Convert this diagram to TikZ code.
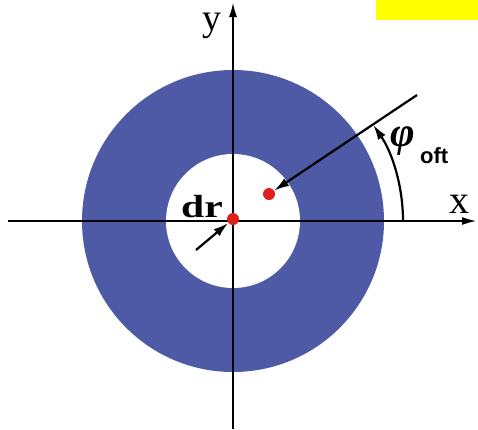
\documentclass[tikz,border=0pt]{standalone}
\usepackage{fontspec}
\setmainfont{Liberation Serif}
\newfontfamily\sansb{Liberation Sans}
\usetikzlibrary{arrows.meta}
\definecolor{ringblue}{RGB}{78,90,166}
\definecolor{dotred}{RGB}{222,32,32}
\definecolor{boxyellow}{RGB}{255,255,0}
\begin{document}
\begin{tikzpicture}[x=1pt,y=-1pt,
  axis/.style={line width=2.2pt, -{Latex[length=15pt,width=8pt]}},
  pointer/.style={line width=2.2pt, -{Latex[length=15pt,width=9pt]}},
  dot/.style={circle, fill=dotred, inner sep=0pt, minimum size=12pt},
  lbl/.style={inner sep=0pt}]
\useasboundingbox (0,0) rectangle (478,429);
\fill[boxyellow] (376,0) rectangle (478,20);
\coordinate (O) at (233,221);
\fill[ringblue] (O) circle[radius=151];
\fill[white] (O) circle[radius=67];
% axes
\coordinate (xs) at (8,221);
\coordinate (xe) at (477,221);
\coordinate (ys) at (233,429);
\coordinate (ye) at (233,2);
\draw[axis] (xs) -- (xe);
\draw[axis] (ys) -- (ye);
% dots
\node[dot] (c) at (233,219) {};
\node[dot] (p) at (269,194) {};
% pointers
\coordinate (pe) at (417,95);
\draw[pointer] (pe) -- (p);
\coordinate (ds) at (196,250);
\draw[pointer] (ds) -- (c);
\coordinate (as) at (403,221);
\draw[pointer] (as) arc[start angle=0,end angle=-34.4,radius=170];
% labels
\node[lbl, font=\fontsize{38}{40}\selectfont, anchor=base, text height=18pt, text depth=9pt] (ylab) at (212,30) {y};
\node[lbl, font=\fontsize{40}{42}\selectfont, anchor=base, text height=19pt, text depth=0pt] (xlab) at (459,213) {x};
\node[lbl, font=\bfseries\fontsize{32}{34}\selectfont, anchor=base, text height=22pt, text depth=0pt] (dr) at (202,217) {\scalebox{1.3}[1]{dr}};
\node[lbl, font=\bfseries\itshape\fontsize{42}{44}\selectfont] (phi) at (403,141) {φ};
\node[lbl, font=\sansb\bfseries\fontsize{22}{24}\selectfont, anchor=base west] (oft) at (420,163) {oft};
\end{tikzpicture}
\end{document}
